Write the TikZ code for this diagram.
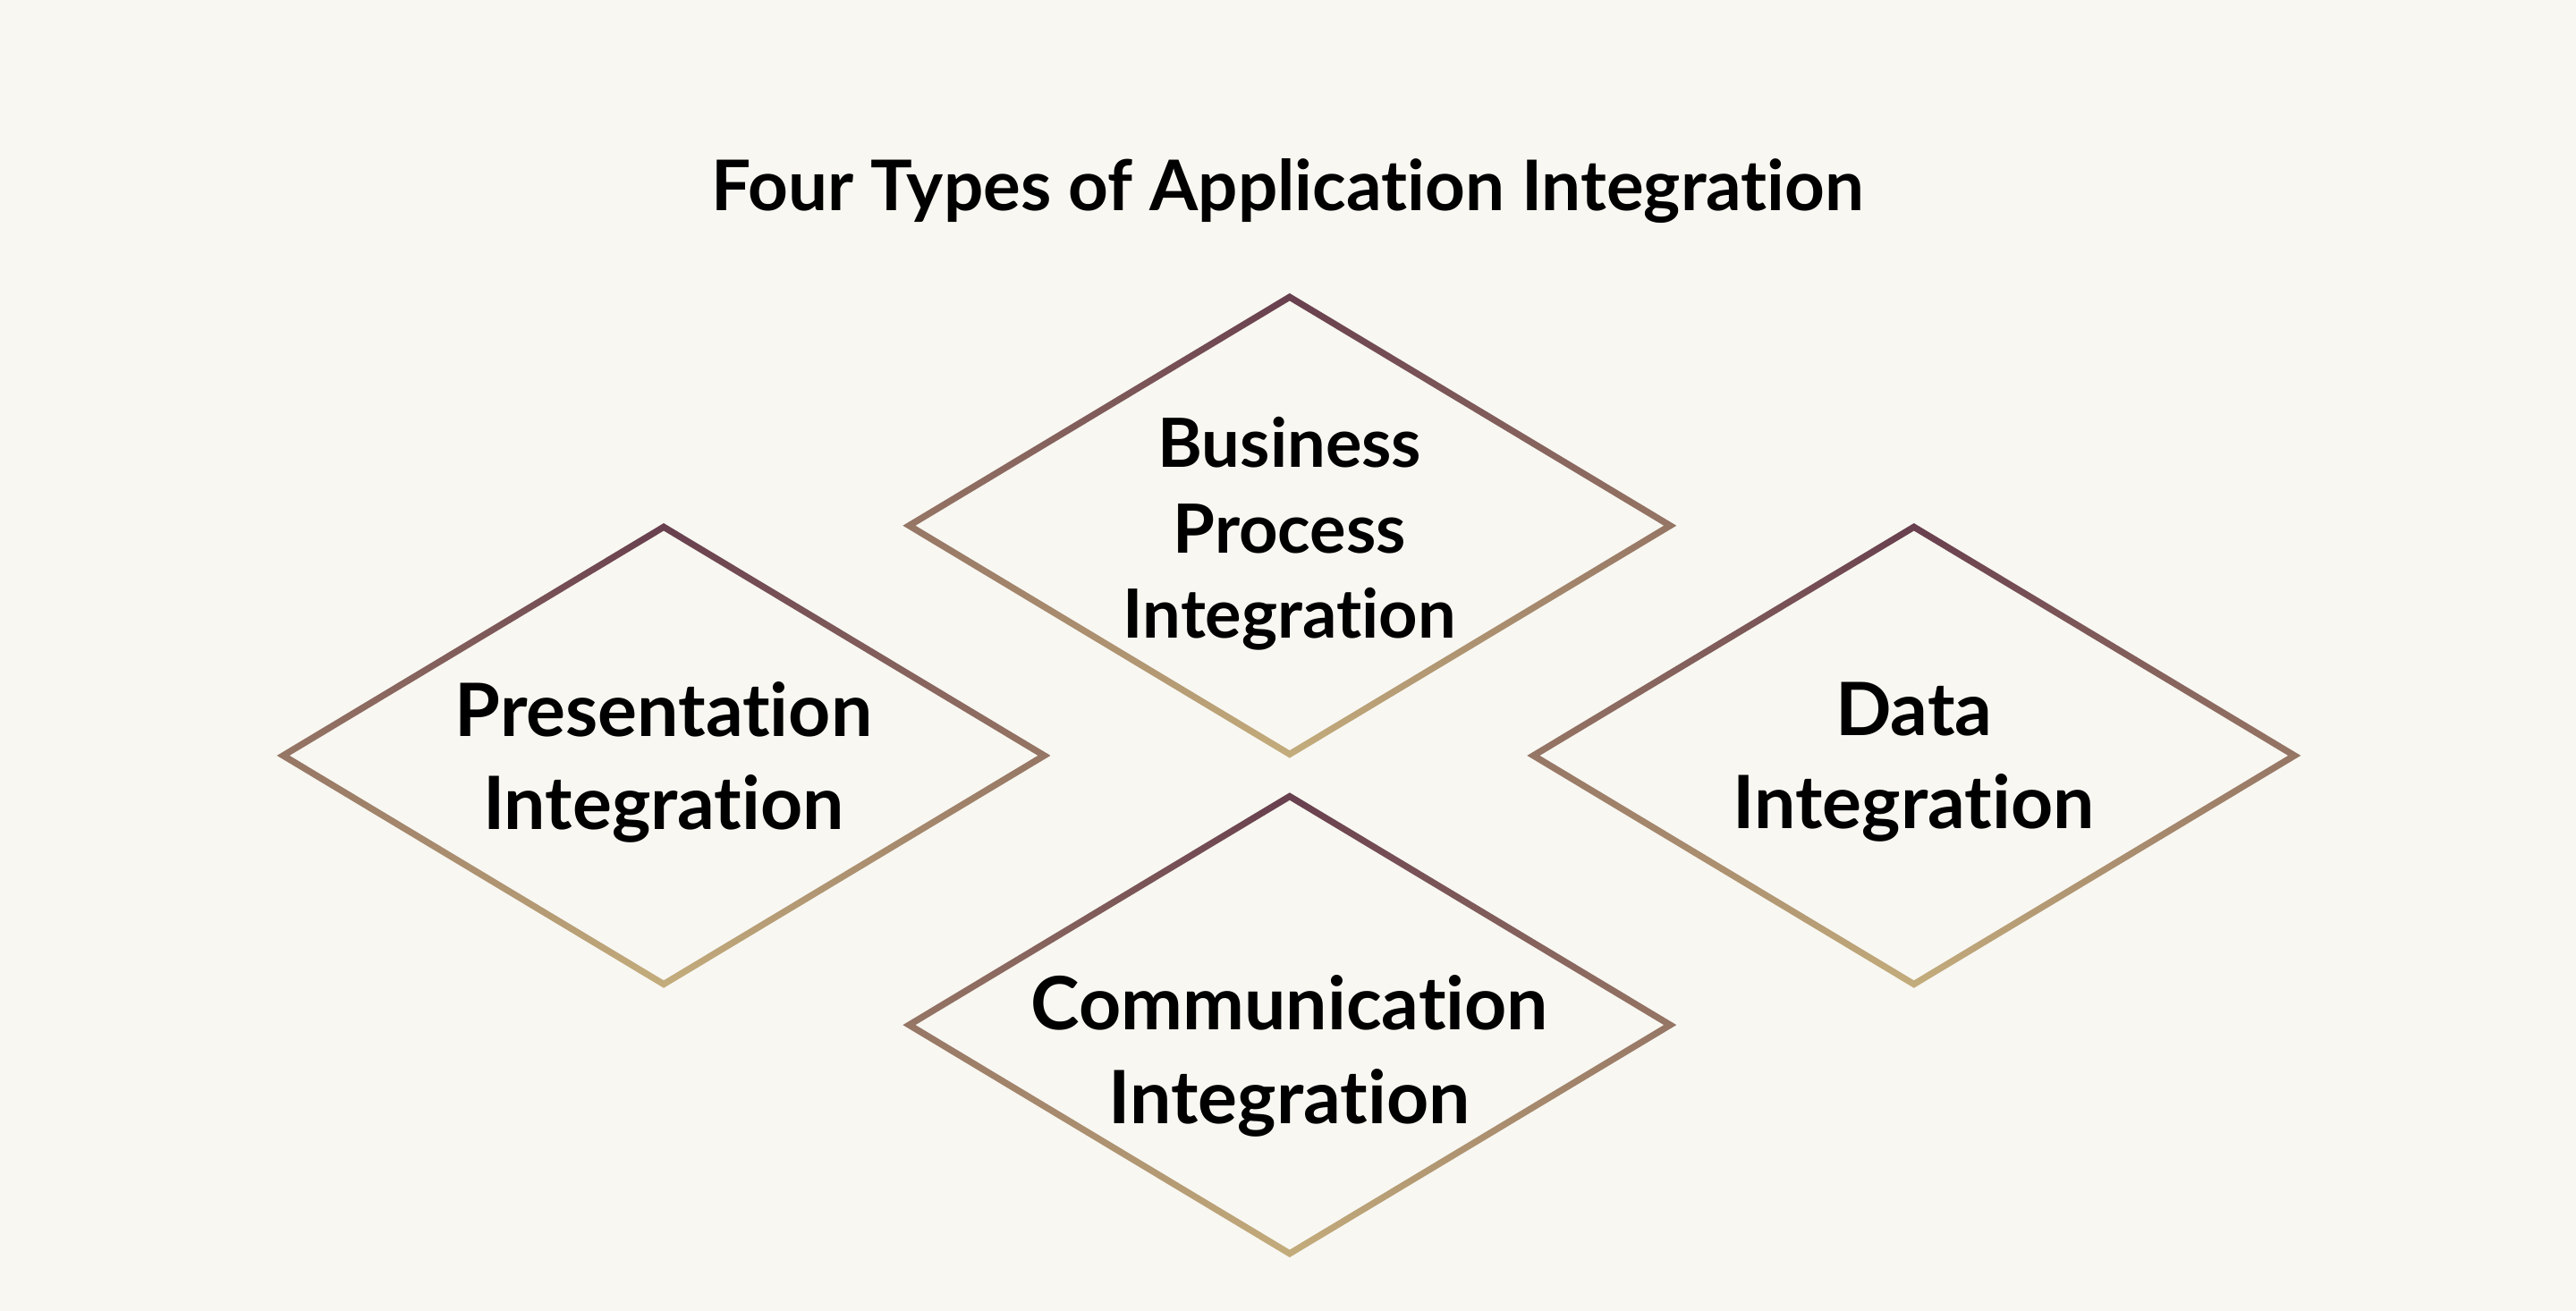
\documentclass[tikz,border=0pt]{standalone}
\usepackage{fontspec}
\setmainfont{Lato}[Ligatures={NoCommon,NoRequired,NoContextual}]
\usetikzlibrary{positioning, shapes.geometric, calc}

\definecolor{bgcol}{HTML}{F8F7F2}
\definecolor{plum}{HTML}{683F4E}
\definecolor{tan}{HTML}{C4AD7C}

\begin{document}
\begin{tikzpicture}[
    x=0.02cm, y=-0.02cm,
    % 菱形外框(只用來取錨點)
    diamondbox/.style={diamond, minimum width=9.42cm, minimum height=5.66cm, inner sep=0pt, outer sep=0pt},
    ringshade/.style={top color=plum, bottom color=tan, even odd rule},
    biglabel/.style={align=center, font=\fontsize{25.5}{32.4}\selectfont\bfseries},
    smalllabel/.style={align=center, font=\fontsize{23.5}{29.6}\selectfont\bfseries}
]

% --- 1. 背景 ---
\fill[bgcol] (0,0) rectangle (1568,798);

% --- 2. 標題 ---
\node[align=center, font=\fontsize{24.2}{29}\selectfont\bfseries] (title) at (784,116) {Four Types of Application Integration};

% --- 3. 四個菱形 ---
\node[diamondbox] (bp) at (785,320) {};
\node[diamondbox] (pr) at (404,460) {};
\node[diamondbox] (da) at (1165,460) {};
\node[diamondbox] (co) at (785,624) {};

% 漸層邊框 (外菱形 - 內菱形)
\foreach \d in {bp,pr,da,co}{
  \shade[ringshade] (\d.north) -- (\d.east) -- (\d.south) -- (\d.west) -- cycle
    ($(\d.north)+(0,4.6)$) -- ($(\d.east)+(-7.7,0)$) -- ($(\d.south)+(0,-4.6)$) -- ($(\d.west)+(7.7,0)$) -- cycle;
}

% --- 4. 文字 ---
\node[smalllabel] (bptext) at ($(bp)+(0,5)$) {Business\\Process\\Integration};
\node[biglabel] (prtext) at ($(pr)+(0,4)$) {Presentation\\Integration};
\node[biglabel] (datext) at ($(da)+(0,4)$) {Data\\Integration};
\node[biglabel] (cotext) at ($(co)+(0,19)$) {Communication\\Integration};

\end{tikzpicture}
\end{document}
